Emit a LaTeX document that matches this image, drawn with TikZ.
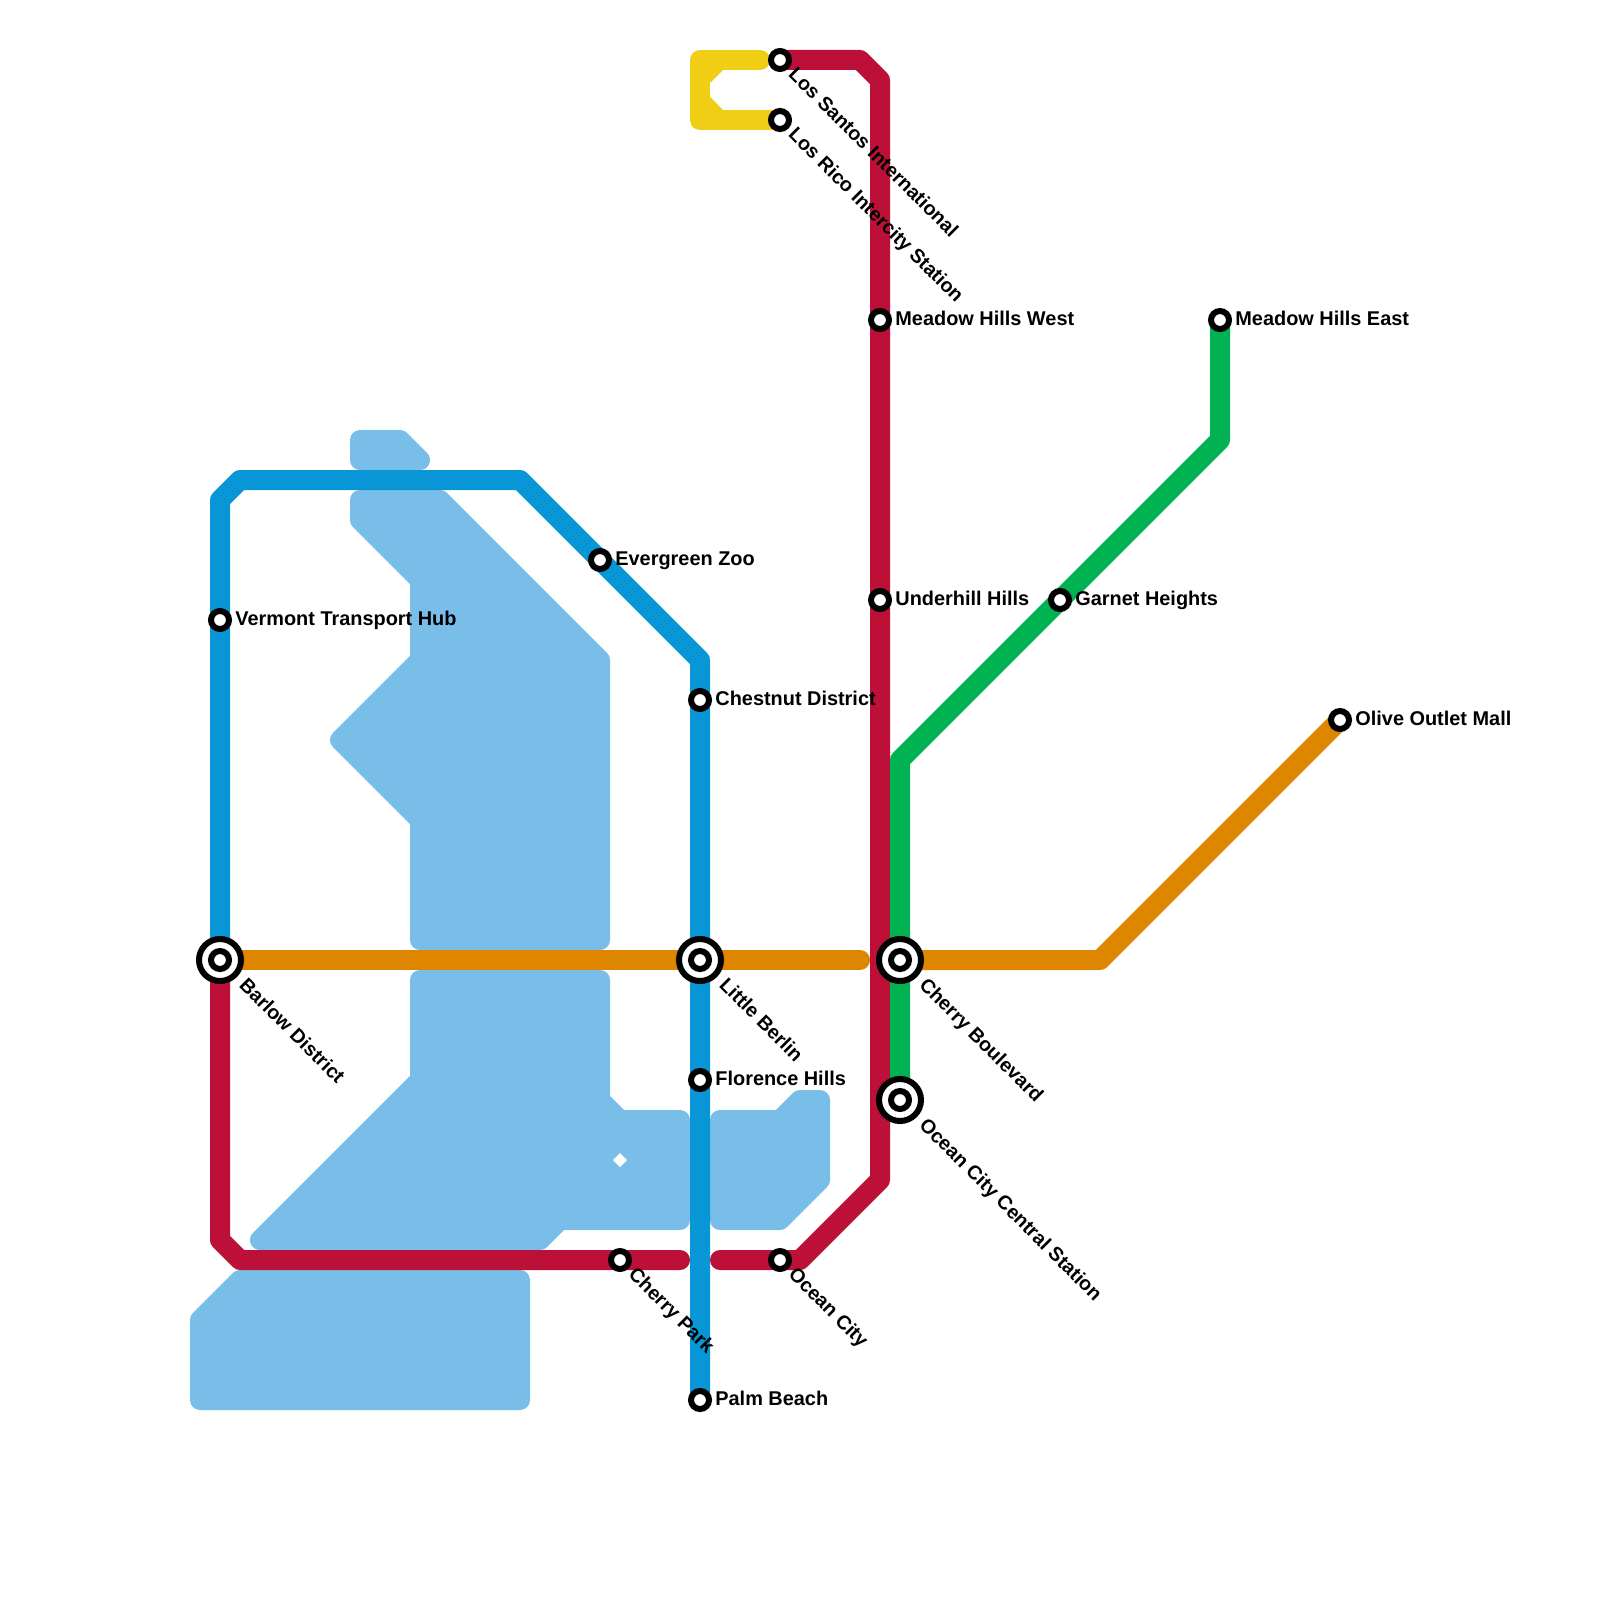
\documentclass[tikz,border=0pt]{standalone}
\usepackage{fontspec}
\setmainfont{Liberation Sans}[BoldFont={Liberation Sans Bold}]
\definecolor{lblue}{HTML}{0896D7}
\definecolor{lred}{HTML}{BD1038}
\definecolor{lyellow}{HTML}{F0CE15}
\definecolor{lgreen}{HTML}{00B251}
\definecolor{lorange}{HTML}{DF8600}
\definecolor{waterc}{HTML}{79BDE9}
\tikzset{
  water/.style={fill=waterc,draw=waterc,line width=10pt,line join=round},
  metro/.style={line width=10pt,line join=round},
  stn/.style={circle,draw=black,fill=white,line width=3pt,minimum size=9pt,inner sep=0pt,outer sep=0pt},
  ring/.style={circle,draw=black,fill=white,line width=3pt,minimum size=21pt,inner sep=0pt,outer sep=0pt},
  lab/.style={text=black,inner sep=0pt,anchor=base west},
  labr/.style={lab,font=\bfseries\fontsize{9.95}{12}\selectfont,xshift=7.5pt,yshift=-2.8pt},
  labd/.style={lab,font=\bfseries\fontsize{9.85}{12}\selectfont,rotate=-45,xshift=8pt,yshift=-2.8pt},
  labx/.style={lab,font=\bfseries\fontsize{9.85}{12}\selectfont,rotate=-45,xshift=15.6pt,yshift=-2.8pt},
}
\begin{document}
\begin{tikzpicture}[x=0.5pt,y=-0.5pt]
\useasboundingbox (0,0) rectangle (1600,1600);
% water
\filldraw[water] (360,440) -- (400,440) -- (420,460) -- (360,460) -- cycle;
\filldraw[water] (360,500) -- (440,500) -- (600,660) -- (600,940) -- (420,940) -- (420,820) -- (340,740) -- (420,660) -- (420,580) -- (360,520) -- cycle;
\filldraw[water] (420,980) -- (600,980) -- (600,1100) -- (620,1120) -- (680,1120) -- (680,1220) -- (560,1220) -- (540,1240) -- (260,1240) -- (420,1080) -- cycle;
\fill[white] (620,1153) -- (627,1160) -- (620,1167) -- (613,1160) -- cycle;
\filldraw[water] (720,1120) -- (780,1120) -- (800,1100) -- (820,1100) -- (820,1180) -- (780,1220) -- (720,1220) -- cycle;
\filldraw[water] (200,1320) -- (240,1280) -- (520,1280) -- (520,1400) -- (200,1400) -- cycle;
% stations
\coordinate (barlow) at (220,960);
\coordinate (vermont) at (220,620);
\coordinate (evergreen) at (600,560);
\coordinate (chestnut) at (700,700);
\coordinate (berlin) at (700,960);
\coordinate (florence) at (700,1080);
\coordinate (palm) at (700,1400);
\coordinate (cherrypark) at (620,1260);
\coordinate (oceancity) at (780,1260);
\coordinate (santos) at (780,60);
\coordinate (rico) at (780,120);
\coordinate (mhwest) at (880,320);
\coordinate (underhill) at (880,600);
\coordinate (garnet) at (1060,600);
\coordinate (mheast) at (1220,320);
\coordinate (olive) at (1340,720);
\coordinate (boulevard) at (900,960);
\coordinate (central) at (900,1100);
\coordinate (redwest) at (680,1260);
\coordinate (redeast) at (720,1260);
\coordinate (orangewest) at (860,960);
% lines
\fill[lyellow] (710,70) -- (723,70) -- (710,83) -- cycle (710,110) -- (723,110) -- (710,97) -- cycle;
\draw[metro,lyellow,line cap=round] (santos) ++(-20,0) -- (700,60) -- (700,120) -- (rico);
\draw[metro,lred,line cap=round] (barlow) -- (220,1240) -- (240,1260) -- (redwest);
\draw[metro,lred,line cap=round] (redeast) -- (800,1260) -- (880,1180) -- (880,80) -- (860,60) -- (santos);
\draw[metro,lgreen] (mheast) -- (1220,440) -- (900,760) -- (central);
\draw[metro,lorange,line cap=round] (barlow) -- (orangewest);
\draw[metro,lorange] (boulevard) -- (1100,960) -- (olive);
\draw[metro,lblue] (barlow) -- (220,500) -- (240,480) -- (520,480) -- (700,660) -- (palm);
% station markers
\foreach \s in {vermont,evergreen,chestnut,florence,palm,cherrypark,oceancity,santos,rico,mhwest,underhill,garnet,mheast,olive}
  \node[stn] (m\s) at (\s) {};
\foreach \s in {barlow,berlin,boulevard,central}{
  \node[ring] (o\s) at (\s) {};
  \node[stn] (m\s) at (\s) {};
}
% labels
\node[labr] (t1) at (vermont) {Vermont Transport Hub};
\node[labr] (t2) at (evergreen) {Evergreen Zoo};
\node[labr] (t3) at (chestnut) {Chestnut District};
\node[labr] (t4) at (florence) {Florence Hills};
\node[labr] (t5) at (palm) {Palm Beach};
\node[labr] (t6) at (mhwest) {Meadow Hills West};
\node[labr] (t7) at (underhill) {Underhill Hills};
\node[labr] (t8) at (garnet) {Garnet Heights};
\node[labr] (t9) at (mheast) {Meadow Hills East};
\node[labr] (t10) at (olive) {Olive Outlet Mall};
\node[labd] (t11) at (santos) {Los Santos International};
\node[labd] (t12) at (rico) {Los Rico Intercity Station};
\node[labx] (t13) at (barlow) {Barlow District};
\node[labx] (t14) at (berlin) {Little Berlin};
\node[labx] (t15) at (boulevard) {Cherry Boulevard};
\node[labx] (t16) at (central) {Ocean City Central Station};
\node[labd] (t17) at (cherrypark) {Cherry Park};
\node[labd] (t18) at (oceancity) {Ocean City};
\end{tikzpicture}
\end{document}
